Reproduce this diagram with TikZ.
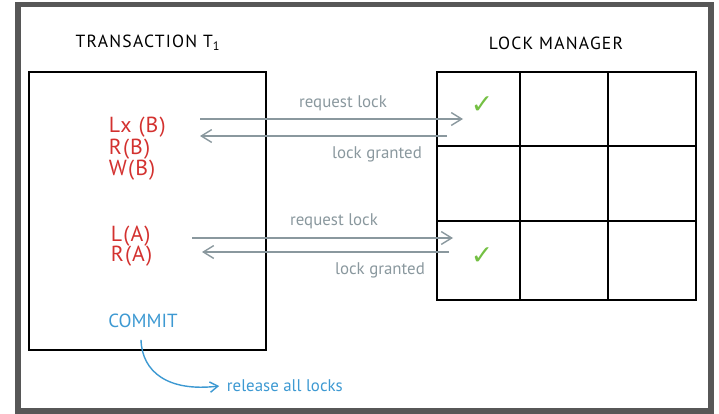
\documentclass[tikz,border=0pt]{standalone}
\usepackage{fontspec}
\setmainfont{PT Sans}
\newfontfamily\symfont{DejaVu Sans}
\usepackage{xcolor}
\usetikzlibrary{arrows.meta}
\definecolor{opRed}{HTML}{D3312F}
\definecolor{commitBlue}{HTML}{3D99D2}
\definecolor{msgGray}{HTML}{8A989E}
\definecolor{okGreen}{HTML}{74C043}
\definecolor{frameGray}{HTML}{575757}

\tikzset{
  heading/.style={font=\fontsize{12.5}{14}\selectfont\addfontfeature{LetterSpace=7}, text=black},
  op/.style={anchor=west, text=opRed, font=\fontsize{15.5}{17}\selectfont\addfontfeature{LetterSpace=5}},
  note/.style={text=msgGray, font=\fontsize{12}{14}\selectfont},
  msg/.style={draw=msgGray, line width=1pt, -{Straight Barb[length=2.6mm,width=3.2mm]}},
  tick/.style={text=okGreen, font=\symfont\fontsize{19}{21}\selectfont},
  gridline/.style={line width=1.3pt},
}

\begin{document}
\begin{tikzpicture}[x=0.025cm, y=-0.025cm]
      \useasboundingbox (0,0) rectangle (719,414);

      % Outer frame
      \draw[frameGray, line width=4.2pt] (18,4.5) rectangle (711,411);

      % Titles
      \node[heading] (txTitle) at (148,43) {TRANSACTION T\textsubscript{1}};
      \node[heading] (lmTitle) at (556,43) {LOCK MANAGER};

      % Transaction box
      \draw[line width=1.2pt] (29,72) rectangle (266,350);

      % Operations on B
      \node[op] (lxB) at (104,127) {Lx (B)};
      \node[op] (rB) at (104,149) {R(B)};
      \node[op] (wB) at (104,170) {W(B)};

      % Operations on A
      \node[op] (lA) at (106,236) {L(A)};
      \node[op] (rA) at (106,256) {R(A)};

      % Commit
      \node[text=commitBlue, font=\fontsize{13.5}{15}\selectfont] (commit) at (143,321) {COMMIT};
      \node[text=commitBlue, font=\fontsize{12}{14}\selectfont, anchor=west] (release) at (222,386) {release all locks};

      % Lock table: 3x3 cells
      \draw[gridline] (437,72) rectangle (696,300);
      \foreach \x in {520,608}
        \draw[gridline] (\x,72) -- (\x,300);
      \foreach \y in {146,221}
        \draw[gridline] (437,\y) -- (696,\y);

      % Granted locks
      \node[tick] (okB) at (482,105) {✓};
      \node[tick] (okA) at (482,256) {✓};

      % Arrow ends
      \coordinate (reqB-s) at (200,119);
      \coordinate (reqB-e) at (463,119);
      \coordinate (grB-s) at (447,136);
      \coordinate (grB-e) at (200,136);
      \coordinate (reqA-s) at (192,238);
      \coordinate (reqA-e) at (453,238);
      \coordinate (grA-s) at (449,252);
      \coordinate (grA-e) at (202,252);

      % Request / grant for B
      \draw[msg] (reqB-s) -- (reqB-e);
      \draw[msg] (grB-s) -- (grB-e);
      \node[note] (reqLblB) at (343,103) {request lock};
      \node[note] (grLblB) at (377,154) {lock granted};

      % Request / grant for A
      \draw[msg] (reqA-s) -- (reqA-e);
      \draw[msg] (grA-s) -- (grA-e);
      \node[note] (reqLblA) at (334,221) {request lock};
      \node[note] (grLblA) at (380,270) {lock granted};

      % Commit releases everything
      \draw[commitBlue, line width=1pt, -{Straight Barb[length=2mm,width=2.6mm]}]
        ([shift={(-2,7)}]commit.south) .. controls (142,372) and (168,392) .. ([xshift=-2]release.west);
    \end{tikzpicture}
\end{document}
